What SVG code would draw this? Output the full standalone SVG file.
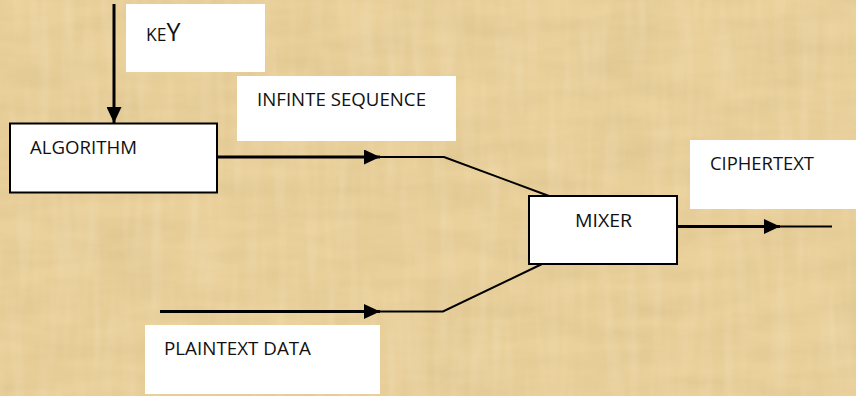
<svg xmlns="http://www.w3.org/2000/svg" width="856" height="396" viewBox="0 0 856 396">
  <defs>
    <style>
      .lbl { font-family: "Open Sans", "Liberation Sans", Arial, sans-serif; font-size: 17.5px; fill: #111; }
      .note { fill: #fff; stroke: none; }
      .box { fill: #fff; stroke: #000; stroke-width: 2; }
      .thick { fill: none; stroke: #000; stroke-width: 3; }
      .thin { fill: none; stroke: #000; stroke-width: 2; }
    </style>
    <marker id="head" markerUnits="userSpaceOnUse" markerWidth="16" markerHeight="15" refX="16" refY="7.5" orient="auto">
      <path d="M0,0 L16,7.5 L0,15 Z" fill="#000"/>
    </marker>
    <filter id="papyrus" x="0" y="0" width="100%" height="100%">
      <feTurbulence type="fractalNoise" baseFrequency="0.012 0.05" numOctaves="3" seed="4" result="n"/>
      <feColorMatrix in="n" type="matrix" values="0 0 0 0 0.55  0 0 0 0 0.42  0 0 0 0 0.2  0 0 0 1 -0.3"/>
    </filter>
    <filter id="fibres" x="0" y="0" width="100%" height="100%">
      <feTurbulence type="fractalNoise" baseFrequency="0.08 0.01" numOctaves="2" seed="9" result="v"/>
      <feColorMatrix in="v" type="matrix" values="0 0 0 0 1  0 0 0 0 0.95  0 0 0 0 0.8  0 0 0 1 -0.4"/>
    </filter>
  </defs>

  <!-- paper background -->
  <rect width="856" height="396" fill="#EAD09A"/>
  <rect width="856" height="396" filter="url(#papyrus)" opacity="0.4"/>
  <rect width="856" height="396" filter="url(#fibres)" opacity="0.35"/>

  <!-- label panels -->
  <g id="key-label">
    <rect class="note" x="126" y="4" width="139" height="68"/>
    <text x="146" y="41" class="lbl" font-size="16">KE<tspan font-size="25">Y</tspan></text>
  </g>
  <g id="sequence-label">
    <rect class="note" x="237" y="76" width="219" height="65"/>
    <text x="257" y="106" class="lbl" textLength="169" lengthAdjust="spacingAndGlyphs">INFINTE SEQUENCE</text>
  </g>
  <g id="ciphertext-label">
    <rect class="note" x="690" y="140" width="166" height="69"/>
    <text x="710" y="170" class="lbl" textLength="104" lengthAdjust="spacingAndGlyphs">CIPHERTEXT</text>
  </g>
  <g id="plaintext-label">
    <rect class="note" x="145" y="325" width="235" height="69"/>
    <text x="164" y="355" class="lbl" textLength="147" lengthAdjust="spacingAndGlyphs">PLAINTEXT DATA</text>
  </g>

  <!-- connectors -->
  <g id="connectors">
    <line class="thick" x1="114" y1="4" x2="114" y2="123" marker-end="url(#head)"/>
    <line class="thick" x1="217" y1="157" x2="380" y2="157" marker-end="url(#head)"/>
    <polyline class="thin" points="379,157 444,157 549,196"/>
    <line class="thick" x1="160" y1="311.5" x2="380" y2="311.5" marker-end="url(#head)"/>
    <polyline class="thin" points="379,311.5 443,311.5 542,264"/>
    <line class="thick" x1="677" y1="226.5" x2="780" y2="226.5" marker-end="url(#head)"/>
    <line class="thin" x1="779" y1="226.5" x2="832" y2="226.5"/>
  </g>

  <!-- process nodes -->
  <g id="algorithm">
    <rect class="box" x="10" y="123.5" width="207" height="69"/>
    <text x="30" y="154" class="lbl" textLength="107" lengthAdjust="spacingAndGlyphs">ALGORITHM</text>
  </g>
  <g id="mixer">
    <rect class="box" x="529" y="196" width="148" height="68"/>
    <text x="575" y="227" class="lbl" textLength="57" lengthAdjust="spacingAndGlyphs">MIXER</text>
  </g>
</svg>
